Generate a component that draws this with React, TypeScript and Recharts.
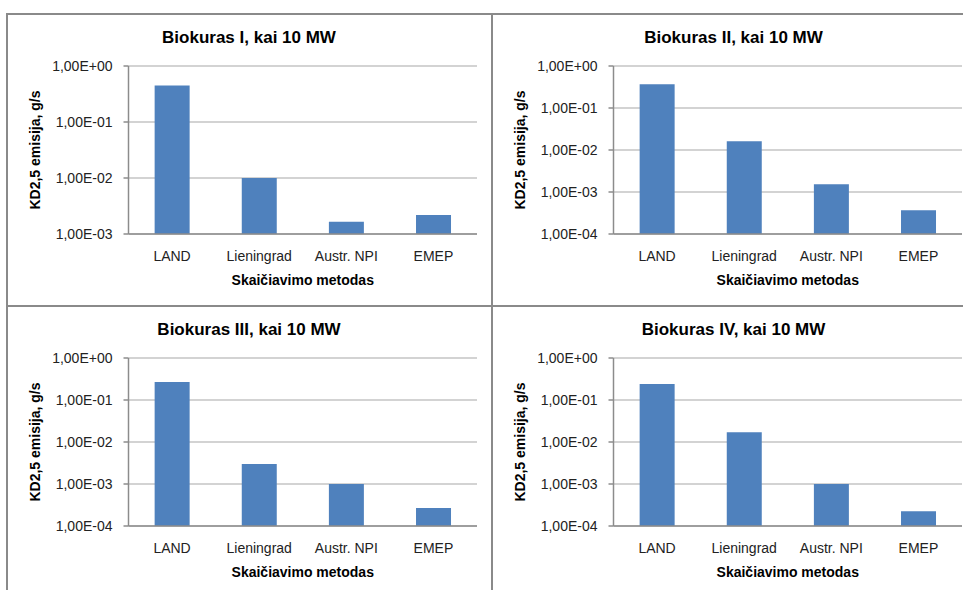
import React from "react";
import { Bar, BarChart, CartesianGrid, XAxis, YAxis } from "recharts";

// methods (categories) and emission values, g/s
const methods = ["LAND", "Lieningrad", "Austr. NPI", "EMEP"];
const biokurasI = [0.45, 0.01, 0.00165, 0.00218];
const biokurasII = [0.37, 0.0162, 0.00152, 0.00037];
const biokurasIII = [0.27, 0.003, 0.001, 0.00027];
const biokurasIV = [0.24, 0.017, 0.001, 0.000224];

const ticksI = [0.001, 0.01, 0.1, 1];
const ticksOther = [0.0001, 0.001, 0.01, 0.1, 1];

const titles = [
    "Biokuras I, kai 10 MW",
    "Biokuras II, kai 10 MW",
    "Biokuras III, kai 10 MW",
    "Biokuras IV, kai 10 MW",
];

const FONT = "'Liberation Sans', Arial, sans-serif";
const BAR = "#4F81BD";
const BORDER = "#8a8a8a";

// 0.001 -> "1,00E-03"
function sciLabel(v: number) {
    const exp = Math.round(Math.log10(v));
    const mant = v / Math.pow(10, exp);
    const sign = exp < 0 ? "-" : "+";
    return `${mant.toFixed(2).replace(".", ",")}E${sign}${String(Math.abs(exp)).padStart(2, "0")}`;
}

function Panel({ title, values, ticks, left, top }: { title: string; values: number[]; ticks: number[]; left: number; top: number }) {
    const data = methods.map((m, i) => ({ name: m, value: values[i] }));
    return (
        <div style={{ position: "absolute", left, top, width: 484, height: 291 }}>
            <div
                style={{
                    position: "absolute",
                    top: 15,
                    left: 0,
                    width: 484,
                    textAlign: "center",
                    fontFamily: FONT,
                    fontWeight: "bold",
                    fontSize: 17,
                    lineHeight: "17px",
                    color: "#000",
                }}
            >
                {title}
            </div>
            <BarChart width={484} height={291} data={data} margin={{ top: 52, right: 14, bottom: 11, left: 0 }} barCategoryGap="30%">
                <CartesianGrid horizontal vertical={false} stroke="#c4c4c4" strokeWidth={1.5} />
                <XAxis
                    dataKey="name"
                    height={60}
                    tickSize={0}
                    tickMargin={17}
                    axisLine={{ stroke: "#8c8c8c", strokeWidth: 1.5 }}
                    tick={{ fill: "#222", fontSize: 14, fontFamily: FONT }}
                    interval={0}
                    label={{
                        value: "Skaičiavimo metodas",
                        position: "insideBottom",
                        offset: 9,
                        style: { fontFamily: FONT, fontSize: 14, fontWeight: "bold", fill: "#000" },
                    }}
                />
                <YAxis
                    type="number"
                    scale="log"
                    domain={[ticks[0], 1]}
                    allowDataOverflow
                    ticks={ticks}
                    interval={0}
                    width={121.5}
                    tickSize={5}
                    tickMargin={11}
                    tickFormatter={sciLabel}
                    axisLine={{ stroke: "#8c8c8c", strokeWidth: 1.5 }}
                    tickLine={{ stroke: "#8c8c8c", strokeWidth: 1.5 }}
                    tick={{ fill: "#222", fontSize: 14, fontFamily: FONT }}
                    label={{
                        value: "KD2,5 emisija, g/s",
                        angle: -90,
                        position: "insideLeft",
                        offset: 28,
                        style: { textAnchor: "middle", fontFamily: FONT, fontSize: 14, fontWeight: "bold", fill: "#000" },
                    }}
                />
                <Bar dataKey="value" fill={BAR} isAnimationActive={false} />
            </BarChart>
        </div>
    );
}

export default function App() {
    return (
        <div style={{ position: "absolute", left: 0, top: 0, width: 963, height: 590, overflow: "hidden", background: "#fff" }}>
            <Panel title={titles[0]} values={biokurasI} ticks={ticksI} left={7} top={14} />
            <Panel title={titles[1]} values={biokurasII} ticks={ticksOther} left={491.5} top={14} />
            <Panel title={titles[2]} values={biokurasIII} ticks={ticksOther} left={7} top={305.5} />
            <Panel title={titles[3]} values={biokurasIV} ticks={ticksOther} left={491.5} top={305.5} />
            {/* panel frame lines */}
            <div style={{ position: "absolute", left: 6, top: 13, width: 957, height: 2, background: BORDER }} />
            <div style={{ position: "absolute", left: 6, top: 304.5, width: 957, height: 2, background: BORDER }} />
            <div style={{ position: "absolute", left: 6, top: 13, width: 2, height: 577, background: BORDER }} />
            <div style={{ position: "absolute", left: 490.5, top: 13, width: 2, height: 577, background: BORDER }} />
        </div>
    );
}
